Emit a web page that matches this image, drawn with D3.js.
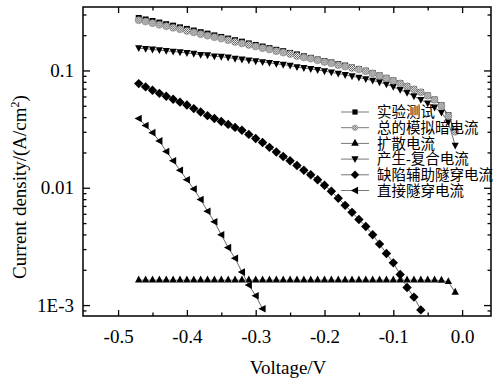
<!DOCTYPE html>
<html>
<head>
<meta charset="utf-8">
<script src="https://cdn.jsdelivr.net/npm/d3@7"></script>
<style>
    body { margin: 0; background: #fff; }
    svg { display: block; }
    text {
        font-family: "Liberation Serif", "Times New Roman", Tinos, "DejaVu Serif", serif;
        fill: #000;
        -webkit-font-smoothing: antialiased;
    }
    .legend text { font-family: "Liberation Serif", "Times New Roman", "DejaVu Serif", "Noto Sans CJK SC", serif; }
</style>
</head>
<body>
<svg id="chart" width="493" height="381"></svg>
<script>
// Bias points (V) shared by the simulated series
const voltage = [-0.47, -0.46, -0.45, -0.44, -0.43, -0.42, -0.41, -0.40, -0.39, -0.38,
    -0.37, -0.36, -0.35, -0.34, -0.33, -0.32, -0.31, -0.30, -0.29, -0.28,
    -0.27, -0.26, -0.25, -0.24, -0.23, -0.22, -0.21, -0.20, -0.19, -0.18,
    -0.17, -0.16, -0.15, -0.14, -0.13, -0.12, -0.11, -0.10, -0.09, -0.08,
    -0.07, -0.06, -0.05, -0.04, -0.03, -0.02, -0.01];

// 实验测试
const measured = [0.280, 0.272, 0.264, 0.256, 0.248, 0.241, 0.233, 0.226, 0.219, 0.212,
    0.206, 0.199, 0.193, 0.187, 0.181, 0.176, 0.170, 0.165, 0.160, 0.155,
    0.150, 0.146, 0.141, 0.137, 0.132, 0.128, 0.124, 0.120, 0.117, 0.113,
    0.110, 0.106, 0.103, 0.0995, 0.0952, 0.0908, 0.0864, 0.0822, 0.0779, 0.0735,
    0.0694, 0.0655, 0.0612, 0.0565, 0.0505, 0.0415, 0.0305];

// 总的模拟暗电流
const totalSim = [0.268, 0.261, 0.253, 0.245, 0.238, 0.231, 0.224, 0.217, 0.211, 0.204,
    0.198, 0.192, 0.187, 0.181, 0.175, 0.170, 0.165, 0.160, 0.155, 0.151,
    0.146, 0.142, 0.138, 0.133, 0.129, 0.126, 0.122, 0.118, 0.115, 0.111,
    0.108, 0.105, 0.102, 0.0985, 0.0944, 0.0902, 0.0859, 0.0818, 0.0776, 0.0733,
    0.0692, 0.0653, 0.0610, 0.0562, 0.0501, 0.0410, 0.0300];

// 扩散电流
const diffusion = [0.00163, 0.00163, 0.00163, 0.00163, 0.00163, 0.00163, 0.00163, 0.00163, 0.00163, 0.00163,
    0.00163, 0.00163, 0.00163, 0.00163, 0.00163, 0.00163, 0.00163, 0.00163, 0.00163, 0.00163,
    0.00163, 0.00163, 0.00163, 0.00163, 0.00163, 0.00163, 0.00163, 0.00163, 0.00163, 0.00163,
    0.00163, 0.00163, 0.00163, 0.00163, 0.00163, 0.00163, 0.00163, 0.00163, 0.00163, 0.00163,
    0.00163, 0.00163, 0.00163, 0.00163, 0.00162, 0.00158, 0.00128];

// 产生-复合电流
const genRecomb = [0.155, 0.153, 0.151, 0.149, 0.147, 0.145, 0.143, 0.141, 0.139, 0.136,
    0.135, 0.132, 0.131, 0.129, 0.126, 0.124, 0.122, 0.120, 0.118, 0.116,
    0.114, 0.112, 0.110, 0.107, 0.105, 0.103, 0.101, 0.0986, 0.0964, 0.0940,
    0.0916, 0.0893, 0.0869, 0.0845, 0.0820, 0.0794, 0.0762, 0.0724, 0.0684, 0.0646,
    0.0603, 0.0562, 0.0525, 0.0484, 0.0437, 0.0363, 0.0229];

// 缺陷辅助隧穿电流 (ends at -0.06 V)
const trapTunnel = [0.0773, 0.0724, 0.0679, 0.0638, 0.0603, 0.0569, 0.0537, 0.0507, 0.0473, 0.0442,
    0.0412, 0.0389, 0.0367, 0.0347, 0.0327, 0.0309, 0.0285, 0.0263, 0.0243, 0.0221,
    0.0202, 0.0185, 0.0170, 0.0155, 0.0141, 0.0129, 0.0117, 0.0105, 0.00933, 0.00813,
    0.00708, 0.00617, 0.00537, 0.00468, 0.00398, 0.00331, 0.00275, 0.00229, 0.00182, 0.00141,
    0.00117, 0.00091];

// 直接隧穿电流 (ends at -0.29 V)
const directTunnel = [0.0389, 0.0339, 0.0295, 0.0251, 0.0204, 0.0170, 0.0141, 0.0117, 0.00977, 0.00794,
    0.00631, 0.00513, 0.00398, 0.00309, 0.00251, 0.00191, 0.00148, 0.00120, 0.00093];

const seriesNames = ['实验测试', '总的模拟暗电流', '扩散电流', '产生-复合电流', '缺陷辅助隧穿电流', '直接隧穿电流'];

const xMajorTicks = [-0.5, -0.4, -0.3, -0.2, -0.1, 0.0];
const xTickLabels = ['-0.5', '-0.4', '-0.3', '-0.2', '-0.1', '0.0'];
const xMinorTicks = [-0.45, -0.35, -0.25, -0.15, -0.05];
const yMajorTicks = [0.001, 0.01, 0.1];
const yTickLabels = ['1E-3', '0.01', '0.1'];
const yMinorTicks = [0.0009, 0.002, 0.003, 0.004, 0.005, 0.006, 0.007, 0.008, 0.009,
    0.02, 0.03, 0.04, 0.05, 0.06, 0.07, 0.08, 0.09, 0.2, 0.3];

const serif = '"Liberation Serif", "Times New Roman", Tinos, "DejaVu Serif", serif';

// Plot frame in page pixels
const frame = { left: 83, top: 7, right: 491, bottom: 316 };

const svg = d3.select('#chart');

const x = d3.scaleLinear()
    .domain([-0.551, 0.042])
    .range([frame.left, frame.right]);

const y = d3.scaleLog()
    .domain([8.07e-4, 0.3475])
    .range([frame.bottom, frame.top]);

// Dotted fill used by the simulated total symbol
const defs = svg.append('defs');
const dots = defs.append('pattern')
    .attr('id', 'dots')
    .attr('width', 2)
    .attr('height', 2)
    .attr('patternUnits', 'userSpaceOnUse');
dots.append('rect').attr('width', 2).attr('height', 2).attr('fill', '#fff');
dots.append('rect').attr('width', 1).attr('height', 1).attr('fill', '#444');
dots.append('rect').attr('x', 1).attr('y', 1).attr('width', 1).attr('height', 1).attr('fill', '#666');

defs.append('clipPath')
    .attr('id', 'plot-clip')
    .append('rect')
    .attr('x', frame.left)
    .attr('y', frame.top)
    .attr('width', frame.right - frame.left)
    .attr('height', frame.bottom - frame.top);

// Marker shapes, centred on the data point
const shapes = {
    square: h => `M${-h},${-h}h${2 * h}v${2 * h}h${-2 * h}Z`,
    up: h => `M0,${-1.25 * h}L${h},${0.6 * h}L${-h},${0.6 * h}Z`,
    down: h => `M0,${1.1 * h}L${h},${-0.8 * h}L${-h},${-0.8 * h}Z`,
    diamond: h => `M0,${-h}L${h},0L0,${h}L${-h},0Z`,
    left: h => `M${-1.1 * h},0L${0.8 * h},${-h}L${0.8 * h},${h}Z`
};

function drawSymbol(g, shape, size, fill, stroke) {
    if (shape === 'circle') {
        return g.append('circle')
            .attr('r', size)
            .attr('fill', fill)
            .attr('stroke', stroke)
            .attr('stroke-width', 0.6);
    }
    return g.append('path')
        .attr('d', shapes[shape](size))
        .attr('fill', fill);
}

const series = [
    { name: seriesNames[2], values: diffusion, shape: 'up', size: 3.7, fill: '#000', stroke: 'none' },
    { name: seriesNames[5], values: directTunnel, shape: 'left', size: 3.8, fill: '#000', stroke: 'none' },
    { name: seriesNames[4], values: trapTunnel, shape: 'diamond', size: 4.7, fill: '#000', stroke: 'none' },
    { name: seriesNames[3], values: genRecomb, shape: 'down', size: 3.6, fill: '#000', stroke: 'none' },
    { name: seriesNames[0], values: measured, shape: 'square', size: 3.0, fill: '#000', stroke: 'none' },
    { name: seriesNames[1], values: totalSim, shape: 'circle', size: 3.5, fill: 'url(#dots)', stroke: '#888' }
];

const plot = svg.append('g').attr('clip-path', 'url(#plot-clip)');

const line = d3.line()
    .x(d => x(d[0]))
    .y(d => y(d[1]));

series.forEach(s => {
    const pts = s.values.map((v, i) => [voltage[i], v]);
    const g = plot.append('g').attr('class', 'series');

    g.append('path')
        .datum(pts)
        .attr('d', line)
        .attr('fill', 'none')
        .attr('stroke', '#444')
        .attr('stroke-width', 0.8);

    g.selectAll('.pt')
        .data(pts)
        .enter()
        .append('g')
        .attr('class', 'pt')
        .attr('transform', d => `translate(${x(d[0])},${y(d[1])})`)
        .each(function() {
            drawSymbol(d3.select(this), s.shape, s.size, s.fill, s.stroke);
        });
});

// Axes: ticks point inward on all four sides
function styleAxis(g) {
    g.attr('font-family', serif);
    g.select('.domain').remove();
    g.selectAll('.tick line').attr('stroke', '#000').attr('stroke-width', 1.3);
    g.selectAll('.tick text')
        .style('font-size', '19px')
        .style('font-family', serif);
}

svg.append('g')
    .attr('transform', `translate(0,${frame.bottom})`)
    .call(d3.axisBottom(x).tickValues(xMajorTicks).tickSize(-6).tickPadding(14)
        .tickFormat((d, i) => xTickLabels[i]))
    .call(styleAxis);

svg.append('g')
    .attr('transform', `translate(0,${frame.bottom})`)
    .call(d3.axisBottom(x).tickValues(xMinorTicks).tickSize(-3.5).tickFormat(''))
    .call(styleAxis);

svg.append('g')
    .attr('transform', `translate(0,${frame.top})`)
    .call(d3.axisTop(x).tickValues(xMajorTicks).tickSize(-6).tickFormat(''))
    .call(styleAxis);

svg.append('g')
    .attr('transform', `translate(0,${frame.top})`)
    .call(d3.axisTop(x).tickValues(xMinorTicks).tickSize(-3.5).tickFormat(''))
    .call(styleAxis);

svg.append('g')
    .attr('transform', `translate(${frame.left},0)`)
    .call(d3.axisLeft(y).tickValues(yMajorTicks).tickSize(-7).tickPadding(9)
        .tickFormat((d, i) => yTickLabels[i]))
    .call(styleAxis);

svg.append('g')
    .attr('transform', `translate(${frame.left},0)`)
    .call(d3.axisLeft(y).tickValues(yMinorTicks).tickSize(-3.5).tickFormat(''))
    .call(styleAxis);

svg.append('g')
    .attr('transform', `translate(${frame.right},0)`)
    .call(d3.axisRight(y).tickValues(yMajorTicks).tickSize(-7).tickFormat(''))
    .call(styleAxis);

svg.append('g')
    .attr('transform', `translate(${frame.right},0)`)
    .call(d3.axisRight(y).tickValues(yMinorTicks).tickSize(-3.5).tickFormat(''))
    .call(styleAxis);

// Frame
svg.append('rect')
    .attr('x', frame.left)
    .attr('y', frame.top)
    .attr('width', frame.right - frame.left)
    .attr('height', frame.bottom - frame.top)
    .attr('fill', 'none')
    .attr('stroke', '#000')
    .attr('stroke-width', 1.5);

// Axis titles
svg.append('text')
    .attr('x', 288)
    .attr('y', 374)
    .attr('text-anchor', 'middle')
    .style('font-family', serif)
    .style('font-size', '19px')
    .text('Voltage/V');

const yTitle = svg.append('text')
    .attr('transform', 'translate(26,187) rotate(-90)')
    .attr('text-anchor', 'middle')
    .style('font-family', serif)
    .style('font-size', '19px');
yTitle.append('tspan').text('Current density/(A/cm');
yTitle.append('tspan').attr('dy', -7).style('font-size', '12px').text('2');
yTitle.append('tspan').attr('dy', 7).text(')');

// Legend
const legendOrder = [
    { label: seriesNames[0], shape: 'square', size: 2.6, fill: '#000', stroke: 'none' },
    { label: seriesNames[1], shape: 'circle', size: 2.8, fill: 'url(#dots)', stroke: '#999' },
    { label: seriesNames[2], shape: 'up', size: 3.8, fill: '#000', stroke: 'none' },
    { label: seriesNames[3], shape: 'down', size: 3.6, fill: '#000', stroke: 'none' },
    { label: seriesNames[4], shape: 'diamond', size: 4.2, fill: '#000', stroke: 'none' },
    { label: seriesNames[5], shape: 'left', size: 3.8, fill: '#000', stroke: 'none' }
];

const legend = svg.append('g')
    .attr('class', 'legend')
    .attr('transform', 'translate(355,112)');

const legendItems = legend.selectAll('.legend-item')
    .data(legendOrder)
    .enter()
    .append('g')
    .attr('class', 'legend-item')
    .attr('transform', (d, i) => `translate(0,${i * 15.7})`);

legendItems.append('line')
    .attr('x1', -14)
    .attr('x2', 14)
    .attr('stroke', '#555')
    .attr('stroke-width', 0.8);

legendItems.each(function(d) {
    drawSymbol(d3.select(this), d.shape, d.size, d.fill, d.stroke);
});

legendItems.append('text')
    .attr('x', 22)
    .attr('dy', '0.36em')
    .style('font-size', '14.5px')
    .style('fill', '#000')
    .text(d => d.label);
</script>
</body>
</html>
